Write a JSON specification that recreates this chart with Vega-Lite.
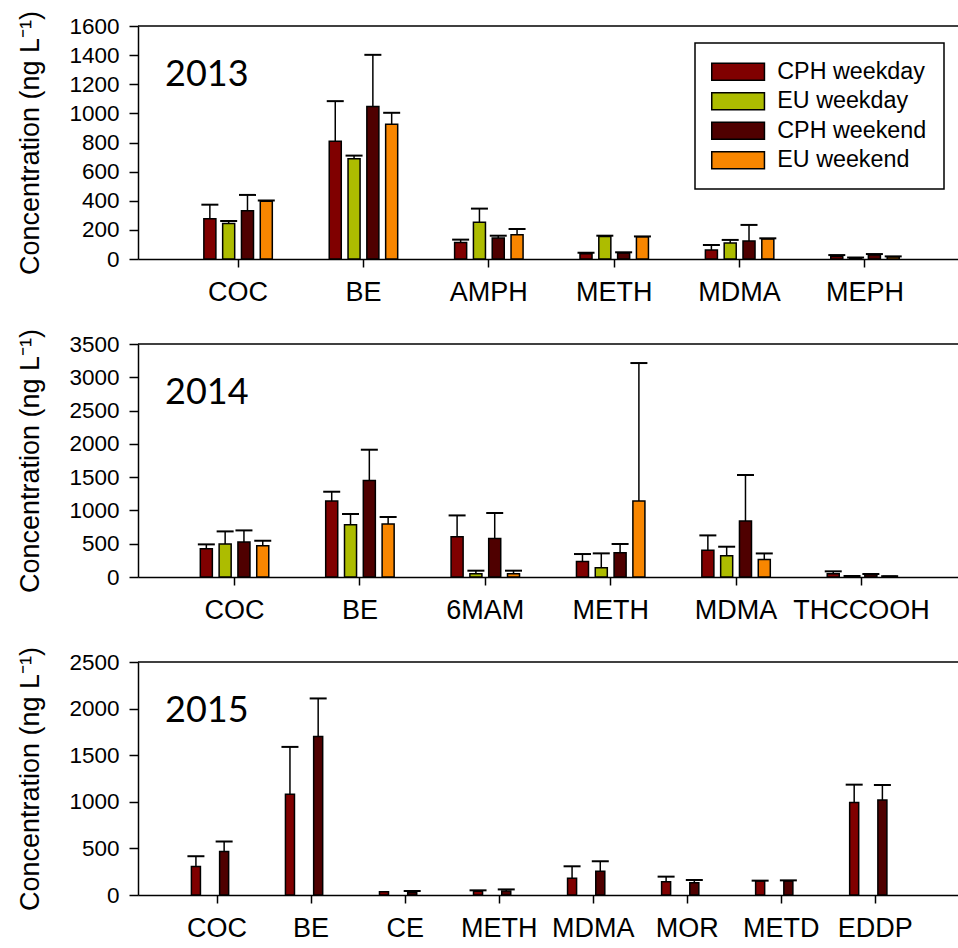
{
  "$schema": "https://vega.github.io/schema/vega-lite/v6.json",
  "background": "white",
  "padding": {"left": 16, "top": 10, "right": 0, "bottom": 0},
  "config": {
    "view": {"stroke": null},
    "font": "Liberation Sans",
    "axis": {
      "domainColor": "black", "tickColor": "black", "labelColor": "black", "titleColor": "black",
      "domainWidth": 1.5, "tickWidth": 1.5, "grid": false, "labelOverlap": false,
      "labelFont": "Liberation Sans", "titleFont": "Liberation Sans", "titleFontWeight": "normal"
    },
    "axisX": {"labelFontSize": 27, "tickSize": 8, "labelPadding": 12, "labelAngle": 0, "title": null},
    "axisY": {"labelFontSize": 22.5, "tickSize": 9, "labelPadding": 10, "titleFontSize": 27, "titlePadding": 24, "format": "d", "labelOverlap": false},
    "tick": {"opacity": 1},
    "title": {"font": "Lato", "fontSize": 36, "fontWeight": "normal", "color": "black", "anchor": "start", "frame": "group", "baseline": "alphabetic", "offset": -84, "dx": 27}
  },
  "data": {"values": [
    {"year": 2013, "drug": "COC", "series": "CPH weekday", "value": 277, "err": 373},
    {"year": 2013, "drug": "COC", "series": "EU weekday", "value": 243, "err": 261},
    {"year": 2013, "drug": "COC", "series": "CPH weekend", "value": 332, "err": 440},
    {"year": 2013, "drug": "COC", "series": "EU weekend", "value": 396, "err": 401},
    {"year": 2013, "drug": "BE", "series": "CPH weekday", "value": 809, "err": 1084},
    {"year": 2013, "drug": "BE", "series": "EU weekday", "value": 688, "err": 710},
    {"year": 2013, "drug": "BE", "series": "CPH weekend", "value": 1047, "err": 1402},
    {"year": 2013, "drug": "BE", "series": "EU weekend", "value": 925, "err": 1004},
    {"year": 2013, "drug": "AMPH", "series": "CPH weekday", "value": 114, "err": 133},
    {"year": 2013, "drug": "AMPH", "series": "EU weekday", "value": 252, "err": 346},
    {"year": 2013, "drug": "AMPH", "series": "CPH weekend", "value": 144, "err": 160},
    {"year": 2013, "drug": "AMPH", "series": "EU weekend", "value": 167, "err": 206},
    {"year": 2013, "drug": "METH", "series": "CPH weekday", "value": 36, "err": 43},
    {"year": 2013, "drug": "METH", "series": "EU weekday", "value": 155, "err": 160},
    {"year": 2013, "drug": "METH", "series": "CPH weekend", "value": 41, "err": 46},
    {"year": 2013, "drug": "METH", "series": "EU weekend", "value": 153, "err": 155},
    {"year": 2013, "drug": "MDMA", "series": "CPH weekday", "value": 62, "err": 96},
    {"year": 2013, "drug": "MDMA", "series": "EU weekday", "value": 110, "err": 131},
    {"year": 2013, "drug": "MDMA", "series": "CPH weekend", "value": 124, "err": 234},
    {"year": 2013, "drug": "MDMA", "series": "EU weekend", "value": 137, "err": 142},
    {"year": 2013, "drug": "MEPH", "series": "CPH weekday", "value": 18, "err": 27},
    {"year": 2013, "drug": "MEPH", "series": "EU weekday", "value": 9, "err": 10},
    {"year": 2013, "drug": "MEPH", "series": "CPH weekend", "value": 27, "err": 34},
    {"year": 2013, "drug": "MEPH", "series": "EU weekend", "value": 14, "err": 18},

    {"year": 2014, "drug": "COC", "series": "CPH weekday", "value": 425, "err": 490},
    {"year": 2014, "drug": "COC", "series": "EU weekday", "value": 496, "err": 685},
    {"year": 2014, "drug": "COC", "series": "CPH weekend", "value": 526, "err": 700},
    {"year": 2014, "drug": "COC", "series": "EU weekend", "value": 470, "err": 545},
    {"year": 2014, "drug": "BE", "series": "CPH weekday", "value": 1141, "err": 1281},
    {"year": 2014, "drug": "BE", "series": "EU weekday", "value": 786, "err": 946},
    {"year": 2014, "drug": "BE", "series": "CPH weekend", "value": 1451, "err": 1912},
    {"year": 2014, "drug": "BE", "series": "EU weekend", "value": 796, "err": 901},
    {"year": 2014, "drug": "6MAM", "series": "CPH weekday", "value": 605, "err": 925},
    {"year": 2014, "drug": "6MAM", "series": "EU weekday", "value": 50, "err": 95},
    {"year": 2014, "drug": "6MAM", "series": "CPH weekend", "value": 580, "err": 961},
    {"year": 2014, "drug": "6MAM", "series": "EU weekend", "value": 50, "err": 95},
    {"year": 2014, "drug": "METH", "series": "CPH weekday", "value": 234, "err": 345},
    {"year": 2014, "drug": "METH", "series": "EU weekday", "value": 140, "err": 355},
    {"year": 2014, "drug": "METH", "series": "CPH weekend", "value": 365, "err": 496},
    {"year": 2014, "drug": "METH", "series": "EU weekend", "value": 1141, "err": 3214},
    {"year": 2014, "drug": "MDMA", "series": "CPH weekday", "value": 400, "err": 625},
    {"year": 2014, "drug": "MDMA", "series": "EU weekday", "value": 320, "err": 455},
    {"year": 2014, "drug": "MDMA", "series": "CPH weekend", "value": 841, "err": 1532},
    {"year": 2014, "drug": "MDMA", "series": "EU weekend", "value": 264, "err": 354},
    {"year": 2014, "drug": "THCCOOH", "series": "CPH weekday", "value": 50, "err": 85},
    {"year": 2014, "drug": "THCCOOH", "series": "EU weekday", "value": 12, "err": 15},
    {"year": 2014, "drug": "THCCOOH", "series": "CPH weekend", "value": 35, "err": 45},
    {"year": 2014, "drug": "THCCOOH", "series": "EU weekend", "value": 10, "err": 12},

    {"year": 2015, "drug": "COC", "series": "CPH weekday", "value": 305, "err": 416},
    {"year": 2015, "drug": "COC", "series": "CPH weekend", "value": 466, "err": 574},
    {"year": 2015, "drug": "BE", "series": "CPH weekday", "value": 1080, "err": 1589},
    {"year": 2015, "drug": "BE", "series": "CPH weekend", "value": 1700, "err": 2109},
    {"year": 2015, "drug": "CE", "series": "CPH weekday", "value": 36, "err": null},
    {"year": 2015, "drug": "CE", "series": "CPH weekend", "value": 28, "err": 43},
    {"year": 2015, "drug": "METH", "series": "CPH weekday", "value": 39, "err": 50},
    {"year": 2015, "drug": "METH", "series": "CPH weekend", "value": 43, "err": 60},
    {"year": 2015, "drug": "MDMA", "series": "CPH weekday", "value": 179, "err": 308},
    {"year": 2015, "drug": "MDMA", "series": "CPH weekend", "value": 254, "err": 362},
    {"year": 2015, "drug": "MOR", "series": "CPH weekday", "value": 143, "err": 197},
    {"year": 2015, "drug": "MOR", "series": "CPH weekend", "value": 132, "err": 161},
    {"year": 2015, "drug": "METD", "series": "CPH weekday", "value": 151, "err": 154},
    {"year": 2015, "drug": "METD", "series": "CPH weekend", "value": 151, "err": 157},
    {"year": 2015, "drug": "EDDP", "series": "CPH weekday", "value": 993, "err": 1184},
    {"year": 2015, "drug": "EDDP", "series": "CPH weekend", "value": 1018, "err": 1180}
  ]},
  "bounds": "flush",
  "spacing": 85,
  "resolve": {"legend": {"color": "independent"}, "scale": {"x": "independent", "xOffset": "independent", "y": "independent"}},
  "vconcat": [
    {
      "width": 820, "height": 233,
      "title": {"text": "2013"},
      "transform": [{"filter": "datum.year == 2013"}],
      "layer": [
        {
          "mark": {"type": "bar", "stroke": "black", "strokeWidth": 1.5, "opacity": 1},
          "encoding": {
            "x": {"field": "drug", "type": "nominal", "scale": {"domain": ["COC", "BE", "AMPH", "METH", "MDMA", "MEPH"], "paddingInner": 0.4, "paddingOuter": 0.47, "align": 0.53}},
            "xOffset": {"field": "series", "type": "nominal", "scale": {"domain": ["CPH weekday", "EU weekday", "CPH weekend", "EU weekend"], "paddingInner": 0.36, "paddingOuter": 0.18}},
            "y": {"field": "value", "type": "quantitative", "scale": {"domain": [0, 1600], "nice": false}, "axis": {"values": [0, 200, 400, 600, 800, 1000, 1200, 1400, 1600], "labelOverlap": false, "title": "Concentration (ng L⁻¹)"}},
            "color": {"field": "series", "type": "nominal",
              "scale": {"domain": ["CPH weekday", "EU weekday", "CPH weekend", "EU weekend"], "range": ["#800000", "#adbc00", "#4f0000", "#f88600"]},
              "legend": {"orient": "none", "legendX": 557, "legendY": 17, "title": null,
                "symbolType": "M-1.4,-1H4.8V1H-1.4Z", "symbolSize": 289, "symbolStrokeColor": "black", "symbolStrokeWidth": 1.5, "symbolOpacity": 1,
                "labelFont": "Liberation Sans", "labelFontSize": 23.3, "labelColor": "black", "labelOffset": 49, "labelLimit": 400,
                "rowPadding": 4.5, "padding": 17, "strokeColor": "black", "fillColor": "white",
                "encode": {"legend": {"update": {"strokeWidth": {"value": 1.5}}}, "labels": {"update": {"dx": {"value": -7}}}}}}
          }
        },
        {
          "mark": {"type": "rule", "color": "black", "strokeWidth": 1.5},
          "encoding": {
            "x": {"field": "drug", "type": "nominal"},
            "xOffset": {"field": "series", "type": "nominal"},
            "y": {"field": "value", "type": "quantitative", "axis": {"values": [0, 200, 400, 600, 800, 1000, 1200, 1400, 1600], "labelOverlap": false, "title": "Concentration (ng L⁻¹)"}}, "y2": {"field": "err"}}
        },
        {
          "mark": {"type": "tick", "color": "black", "size": 17, "thickness": 2, "orient": "horizontal", "opacity": 1},
          "encoding": {
            "x": {"field": "drug", "type": "nominal"},
            "xOffset": {"field": "series", "type": "nominal"},
            "y": {"field": "err", "type": "quantitative", "axis": {"values": [0, 200, 400, 600, 800, 1000, 1200, 1400, 1600], "labelOverlap": false, "title": "Concentration (ng L⁻¹)"}}}
        },
        {
          "data": {"values": [{}]},
          "mark": {"type": "rule", "color": "black", "strokeWidth": 1.5},
          "encoding": {"y": {"datum": 1600, "type": "quantitative", "axis": {"values": [0, 200, 400, 600, 800, 1000, 1200, 1400, 1600], "labelOverlap": false, "title": "Concentration (ng L⁻¹)"}}}
        }
      ]
    },
    {
      "width": 820, "height": 233,
      "title": {"text": "2014"},
      "transform": [{"filter": "datum.year == 2014"}],
      "layer": [
        {
          "mark": {"type": "bar", "stroke": "black", "strokeWidth": 1.5, "opacity": 1},
          "encoding": {
            "x": {"field": "drug", "type": "nominal", "scale": {"domain": ["COC", "BE", "6MAM", "METH", "MDMA", "THCCOOH"], "paddingInner": 0.4, "paddingOuter": 0.47, "align": 0.5}},
            "xOffset": {"field": "series", "type": "nominal", "scale": {"domain": ["CPH weekday", "EU weekday", "CPH weekend", "EU weekend"], "paddingInner": 0.36, "paddingOuter": 0.18}},
            "y": {"field": "value", "type": "quantitative", "scale": {"domain": [0, 3500], "nice": false}, "axis": {"values": [0, 500, 1000, 1500, 2000, 2500, 3000, 3500], "labelOverlap": false, "title": "Concentration (ng L⁻¹)"}},
            "color": {"field": "series", "type": "nominal", "legend": null}
          }
        },
        {
          "mark": {"type": "rule", "color": "black", "strokeWidth": 1.5},
          "encoding": {
            "x": {"field": "drug", "type": "nominal"},
            "xOffset": {"field": "series", "type": "nominal"},
            "y": {"field": "value", "type": "quantitative", "axis": {"values": [0, 500, 1000, 1500, 2000, 2500, 3000, 3500], "labelOverlap": false, "title": "Concentration (ng L⁻¹)"}}, "y2": {"field": "err"}}
        },
        {
          "mark": {"type": "tick", "color": "black", "size": 17, "thickness": 2, "orient": "horizontal", "opacity": 1},
          "encoding": {
            "x": {"field": "drug", "type": "nominal"},
            "xOffset": {"field": "series", "type": "nominal"},
            "y": {"field": "err", "type": "quantitative", "axis": {"values": [0, 500, 1000, 1500, 2000, 2500, 3000, 3500], "labelOverlap": false, "title": "Concentration (ng L⁻¹)"}}}
        },
        {
          "data": {"values": [{}]},
          "mark": {"type": "rule", "color": "black", "strokeWidth": 1.5},
          "encoding": {"y": {"datum": 3500, "type": "quantitative", "axis": {"values": [0, 500, 1000, 1500, 2000, 2500, 3000, 3500], "labelOverlap": false, "title": "Concentration (ng L⁻¹)"}}}
        }
      ]
    },
    {
      "width": 820, "height": 233,
      "title": {"text": "2015"},
      "transform": [{"filter": "datum.year == 2015"}],
      "layer": [
        {
          "mark": {"type": "bar", "stroke": "black", "strokeWidth": 1.5, "opacity": 1},
          "encoding": {
            "x": {"field": "drug", "type": "nominal", "scale": {"domain": ["COC", "BE", "CE", "METH", "MDMA", "MOR", "METD", "EDDP"], "paddingInner": 0.4, "paddingOuter": 0.56, "align": 0.483}},
            "xOffset": {"field": "series", "type": "nominal", "scale": {"domain": ["CPH weekday", "EU weekday", "CPH weekend", "EU weekend"], "paddingInner": 0.36, "paddingOuter": 0.18}},
            "y": {"field": "value", "type": "quantitative", "scale": {"domain": [0, 2500], "nice": false}, "axis": {"values": [0, 500, 1000, 1500, 2000, 2500], "labelOverlap": false, "title": "Concentration (ng L⁻¹)"}},
            "color": {"field": "series", "type": "nominal", "legend": null}
          }
        },
        {
          "mark": {"type": "rule", "color": "black", "strokeWidth": 1.5},
          "transform": [{"filter": "datum.err != null"}],
          "encoding": {
            "x": {"field": "drug", "type": "nominal"},
            "xOffset": {"field": "series", "type": "nominal"},
            "y": {"field": "value", "type": "quantitative", "axis": {"values": [0, 500, 1000, 1500, 2000, 2500], "labelOverlap": false, "title": "Concentration (ng L⁻¹)"}}, "y2": {"field": "err"}}
        },
        {
          "mark": {"type": "tick", "color": "black", "size": 17, "thickness": 2, "orient": "horizontal", "opacity": 1},
          "transform": [{"filter": "datum.err != null"}],
          "encoding": {
            "x": {"field": "drug", "type": "nominal"},
            "xOffset": {"field": "series", "type": "nominal"},
            "y": {"field": "err", "type": "quantitative", "axis": {"values": [0, 500, 1000, 1500, 2000, 2500], "labelOverlap": false, "title": "Concentration (ng L⁻¹)"}}}
        },
        {
          "data": {"values": [{}]},
          "mark": {"type": "rule", "color": "black", "strokeWidth": 1.5},
          "encoding": {"y": {"datum": 2500, "type": "quantitative", "axis": {"values": [0, 500, 1000, 1500, 2000, 2500], "labelOverlap": false, "title": "Concentration (ng L⁻¹)"}}}
        }
      ]
    }
  ]
}
